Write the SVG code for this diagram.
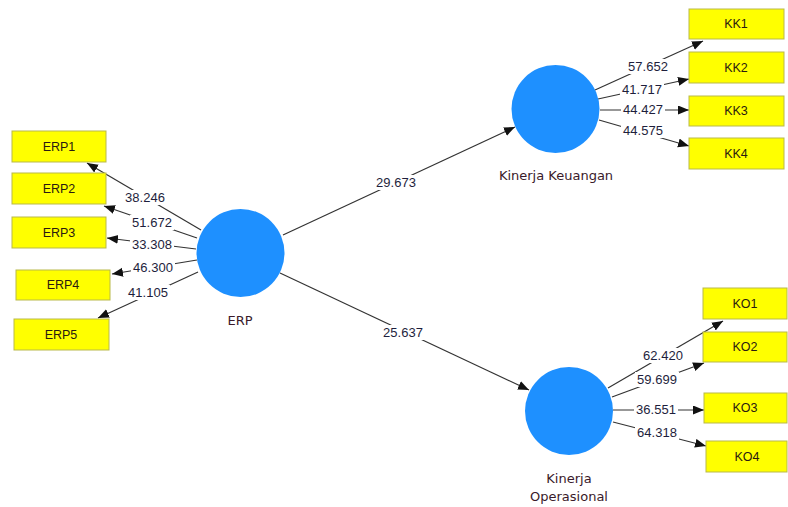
<svg xmlns="http://www.w3.org/2000/svg" width="788" height="507" viewBox="0 0 788 507">
<defs>
<marker id="ah" markerUnits="userSpaceOnUse" markerWidth="12" markerHeight="10" refX="11" refY="4.5" orient="auto">
<path d="M0,0 L11,4.5 L0,9 z" fill="#111"/>
</marker>
<style>
.box{fill:#ffff00;stroke:#b9b94a;stroke-width:1}
.lv{fill:#1e90ff}
.bt{font-family:"Liberation Sans",Arial,sans-serif;font-size:12.5px;fill:#2a1a10;text-anchor:middle}
.nt{font-family:"DejaVu Sans",sans-serif;font-size:13px;fill:#3a1a2a;text-anchor:middle}
.ln{stroke:#333;stroke-width:1.2;fill:none;marker-end:url(#ah)}
.bg{fill:#fff}
.lb{font-family:"Liberation Sans",Arial,sans-serif;font-size:13px;fill:#1e1e3c;text-anchor:middle}
</style>
</defs>
<rect width="788" height="507" fill="#fff"/>
<g id="connectors">
<line class="ln" x1="201" y1="230" x2="87" y2="163"/>
<line class="ln" x1="197" y1="238" x2="104" y2="206"/>
<line class="ln" x1="196" y1="249" x2="107" y2="238"/>
<line class="ln" x1="197" y1="260" x2="112" y2="274"/>
<line class="ln" x1="198" y1="272" x2="98" y2="318"/>
<line class="ln" x1="283" y1="235" x2="515" y2="127"/>
<line class="ln" x1="280" y1="273" x2="529" y2="390"/>
<line class="ln" x1="595" y1="90" x2="703" y2="41"/>
<line class="ln" x1="598" y1="99" x2="689" y2="79"/>
<line class="ln" x1="600" y1="110" x2="689" y2="110"/>
<line class="ln" x1="599" y1="120" x2="689" y2="146"/>
<line class="ln" x1="608" y1="388" x2="723" y2="321"/>
<line class="ln" x1="612" y1="397" x2="704" y2="363"/>
<line class="ln" x1="613" y1="410" x2="704" y2="410"/>
<line class="ln" x1="613" y1="422" x2="706" y2="446"/>
<rect class="bg" x="123" y="190" width="44" height="15"/>
<rect class="bg" x="130" y="215" width="44" height="15"/>
<rect class="bg" x="130" y="237" width="44" height="15"/>
<rect class="bg" x="131" y="260" width="44" height="15"/>
<rect class="bg" x="126" y="285" width="44" height="15"/>
<rect class="bg" x="374" y="175" width="44" height="15"/>
<rect class="bg" x="381" y="325" width="44" height="15"/>
<rect class="bg" x="626" y="59" width="44" height="15"/>
<rect class="bg" x="620" y="82" width="44" height="15"/>
<rect class="bg" x="621" y="102" width="44" height="15"/>
<rect class="bg" x="621" y="123" width="44" height="15"/>
<rect class="bg" x="641" y="348" width="44" height="15"/>
<rect class="bg" x="635" y="372" width="44" height="15"/>
<rect class="bg" x="634" y="402" width="44" height="15"/>
<rect class="bg" x="635" y="425" width="44" height="15"/>
<text class="lb" x="145" y="202">38.246</text>
<text class="lb" x="152" y="227">51.672</text>
<text class="lb" x="152" y="249">33.308</text>
<text class="lb" x="153" y="272">46.300</text>
<text class="lb" x="148" y="297">41.105</text>
<text class="lb" x="396" y="187">29.673</text>
<text class="lb" x="403" y="337">25.637</text>
<text class="lb" x="648" y="71">57.652</text>
<text class="lb" x="642" y="94">41.717</text>
<text class="lb" x="643" y="114">44.427</text>
<text class="lb" x="643" y="135">44.575</text>
<text class="lb" x="663" y="360">62.420</text>
<text class="lb" x="657" y="384">59.699</text>
<text class="lb" x="656" y="414">36.551</text>
<text class="lb" x="657" y="437">64.318</text>
</g>
<g id="ERP"><circle class="lv" cx="240.5" cy="253" r="44"/><text class="nt" x="240" y="325">ERP</text></g>
<g id="KK_lv"><circle class="lv" cx="555.5" cy="109" r="44"/><text class="nt" x="556" y="180">Kinerja Keuangan</text></g>
<g id="KO_lv"><circle class="lv" cx="569" cy="411" r="44"/><text class="nt" x="569" y="483">Kinerja</text><text class="nt" x="569" y="501">Operasional</text></g>
<g id="ERP1"><rect class="box" x="12" y="131" width="94" height="31"/><text class="bt" x="59" y="151">ERP1</text></g>
<g id="ERP2"><rect class="box" x="12" y="173" width="94" height="31"/><text class="bt" x="59" y="193">ERP2</text></g>
<g id="ERP3"><rect class="box" x="12" y="217" width="94" height="31"/><text class="bt" x="59" y="237">ERP3</text></g>
<g id="ERP4"><rect class="box" x="16" y="270" width="94" height="30"/><text class="bt" x="63" y="289">ERP4</text></g>
<g id="ERP5"><rect class="box" x="14" y="319" width="95" height="31"/><text class="bt" x="61" y="339">ERP5</text></g>
<g id="KK1"><rect class="box" x="689" y="9" width="95" height="30"/><text class="bt" x="736" y="28">KK1</text></g>
<g id="KK2"><rect class="box" x="689" y="52" width="95" height="31"/><text class="bt" x="736" y="72">KK2</text></g>
<g id="KK3"><rect class="box" x="689" y="96" width="95" height="30"/><text class="bt" x="736" y="115">KK3</text></g>
<g id="KK4"><rect class="box" x="689" y="138" width="95" height="31"/><text class="bt" x="736" y="158">KK4</text></g>
<g id="KO1"><rect class="box" x="703" y="288" width="84" height="31"/><text class="bt" x="745" y="308">KO1</text></g>
<g id="KO2"><rect class="box" x="703" y="332" width="84" height="30"/><text class="bt" x="745" y="351">KO2</text></g>
<g id="KO3"><rect class="box" x="704" y="393" width="83" height="30"/><text class="bt" x="745" y="412">KO3</text></g>
<g id="KO4"><rect class="box" x="706" y="441" width="81" height="31"/><text class="bt" x="747" y="461">KO4</text></g>
</svg>
